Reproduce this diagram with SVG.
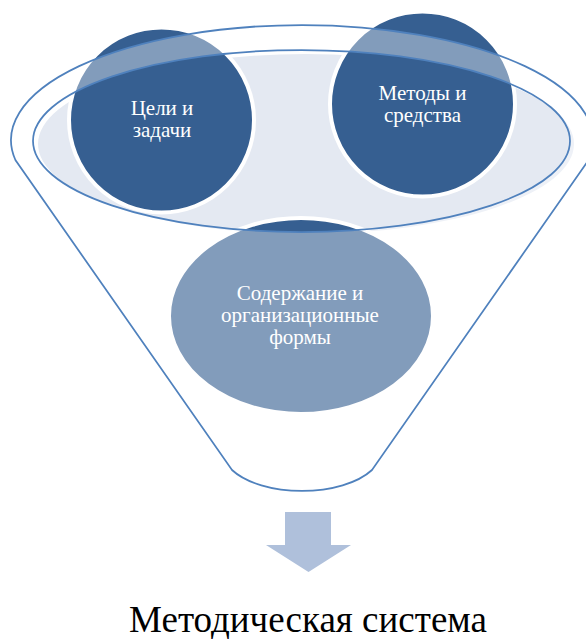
<svg xmlns="http://www.w3.org/2000/svg" width="586" height="639" viewBox="0 0 586 639">
<style>
.bg{fill:#E4E9F2}
.node{fill:#365F91;stroke:#FFFFFF;stroke-width:4}
.lbl{font-family:"Liberation Serif","Times New Roman",serif;font-size:21px;fill:#FFFFFF;text-anchor:middle}
.funnel{fill:#FFFFFF;fill-opacity:0.38;fill-rule:evenodd;stroke:none}
.line{fill:none;stroke:#4F81BD;stroke-width:1.75}
.title{font-family:"Liberation Serif","Times New Roman",serif;font-size:37px;fill:#000000;text-anchor:middle}
</style>
<rect width="586" height="639" fill="#FFFFFF"/>
<ellipse class="bg" cx="306" cy="144" rx="268" ry="90"/>
<g id="node-goals">
<circle class="node" cx="161.5" cy="120" r="92.5"/>
</g>
<g id="node-methods">
<circle class="node" cx="422.5" cy="104" r="92.5"/>
</g>
<g id="node-content">
<ellipse class="node" cx="301" cy="316" rx="132" ry="98"/>
</g>
<g id="funnel">
<path class="funnel" d="M15.4,160 A291,115 0 1 1 588.6,160 L372,470 A80,40.7 0 0 1 232,470 Z M33,141 A268.5,91 0 1 0 570,141 A268.5,91 0 1 0 33,141 Z"/>
<path class="line" d="M15.4,160 A291,115 0 1 1 588.6,160 L372,470 A80,40.7 0 0 1 232,470 Z"/>
<ellipse class="line" cx="301.5" cy="141" rx="268.5" ry="91"/>
</g>
<g id="labels">
<text class="lbl" x="162" y="115">Цели и</text>
<text class="lbl" x="162" y="137">задачи</text>
<text class="lbl" x="422.5" y="100">Методы и</text>
<text class="lbl" x="422.5" y="122">средства</text>
<text class="lbl" x="300" y="300">Содержание и</text>
<text class="lbl" x="300" y="322">организационные</text>
<text class="lbl" x="300" y="344">формы</text>
</g>
<g id="connectors">
<polygon points="285,512 331,512 331,545 351,545 308.5,572 266,545 285,545" fill="#AFC0DB"/>
</g>
<g id="node-result">
<text class="title" x="308" y="632">Методическая система</text>
</g>
</svg>
